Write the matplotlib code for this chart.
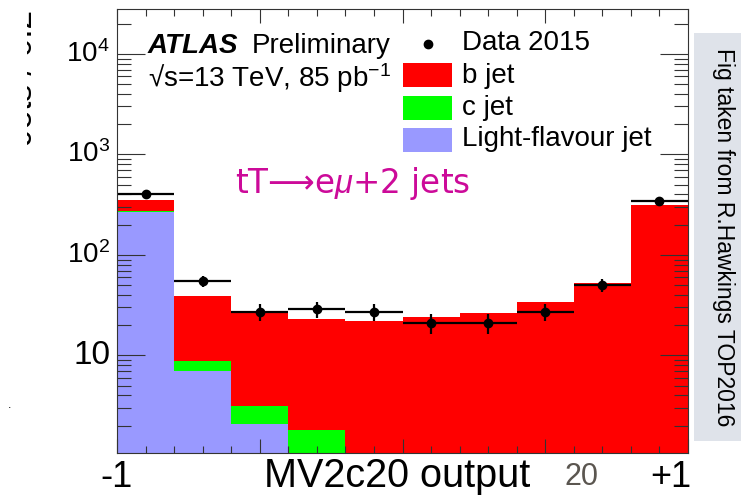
import numpy as np
import matplotlib
matplotlib.use("Agg")
import matplotlib.pyplot as plt
from matplotlib.patches import Rectangle
from matplotlib.lines import Line2D
from matplotlib.ticker import MultipleLocator, LogLocator, NullFormatter
from matplotlib.transforms import Bbox, TransformedBbox, blended_transform_factory

plt.rcParams["font.family"] = ["Liberation Sans", "DejaVu Sans"]
plt.rcParams["mathtext.fontset"] = "custom"
plt.rcParams["mathtext.rm"] = "Liberation Sans"
plt.rcParams["mathtext.it"] = "Liberation Sans:italic"
plt.rcParams["mathtext.bf"] = "Liberation Sans:bold"

# MV2c20 output bins
bin_edges = [-1.0, -0.8, -0.6, -0.4, -0.2, 0.0, 0.2, 0.4, 0.6, 0.8, 1.0]
# Simulated jet-flavour contributions per bin (stacked: light, c, b)
light_jet = [269, 7.0, 2.07, 0.8, 0.4, 0.25, 0.2, 0.15, 0.1, 0.1]
c_jet = [6, 1.9, 1.07, 1.03, 0.5, 0.5, 0.5, 0.5, 0.5, 0.6]
b_jet = [80, 30, 23.6, 21.3, 21.3, 23.5, 26, 33, 51.5, 315]
# Observed jets (Data 2015)
data_2015 = [407, 55, 27, 29, 27, 21, 21, 27, 50, 341]

y_ticks = [10, 100, 1000, 10000]
y_tick_labels = ["10", "$10^{2}$", "$10^{3}$", "$10^{4}$"]

W, H = 741, 500
fig = plt.figure(figsize=(W / 100, H / 100), dpi=100)


def fx(x):
    return x / W


def fy(y):
    return 1 - y / H


ax = fig.add_axes([fx(117), fy(453), (688 - 117) / W, (453 - 9) / H])

edges = np.array(bin_edges)
widths = np.diff(edges)
centers = edges[:-1] + widths / 2
light = np.array(light_jet)
cj = np.array(c_jet)
bj = np.array(b_jet)
data = np.array(data_2015, dtype=float)

ax.bar(edges[:-1], light, width=widths, align="edge", color="#9999ff",
       linewidth=0, log=True)
ax.bar(edges[:-1], cj, width=widths, bottom=light, align="edge",
       color="#00ff00", linewidth=0)
ax.bar(edges[:-1], bj, width=widths, bottom=light + cj, align="edge",
       color="#ff0000", linewidth=0)

ax.errorbar(centers, data, xerr=widths / 2, yerr=np.sqrt(data), fmt="o",
            color="black", ms=6, elinewidth=1.6, capsize=0, zorder=5,
            clip_on=False)

ax.set_yscale("log")
ax.set_xlim(-1, 1)
ax.set_ylim(1.07, 2.8e4)

ax.xaxis.set_major_locator(MultipleLocator(0.5))
ax.xaxis.set_minor_locator(MultipleLocator(0.1))
ax.yaxis.set_major_locator(LogLocator(base=10))
ax.yaxis.set_minor_locator(LogLocator(base=10, subs=np.arange(2, 10)))
ax.xaxis.set_major_formatter(NullFormatter())
ax.yaxis.set_major_formatter(NullFormatter())
ax.yaxis.set_minor_formatter(NullFormatter())

ax.tick_params(which="both", direction="in", top=True, right=True,
               color="#333333", width=0.8)
ax.tick_params(axis="x", which="major", length=10)
ax.tick_params(axis="x", which="minor", length=5)
ax.tick_params(axis="y", which="major", length=20)
ax.tick_params(axis="y", which="minor", length=10)
for sp in ax.spines.values():
    sp.set_color("#333333")
    sp.set_linewidth(0.8)
    sp.set_zorder(6)

# y tick labels
ytr = blended_transform_factory(fig.transFigure, ax.transData)
for v, lab in zip(y_ticks, y_tick_labels):
    fs = 24 if v == 10 else 20
    fig.text(fx(110), v, lab, transform=ytr, ha="right", va="center",
             fontsize=fs)

# x-axis end labels and title
fig.text(fx(117), fy(487), "-1", ha="center", va="baseline", fontsize=26)
fig.text(fx(691), fy(487), "+1", ha="right", va="baseline", fontsize=26)
fig.text(fx(264), fy(487), "MV2c20 output", ha="left", va="baseline",
         fontsize=28.5)
fig.text(fx(564), fy(485), "20", ha="left", va="baseline", fontsize=22,
         color="#5b5650")

# y-axis title, mostly outside the visible area
yl = fig.text(fx(39), fy(10), "Jets / 0.2", rotation=90, ha="right",
              va="top", fontsize=24)
yl.set_clip_box(TransformedBbox(Bbox.from_extents(fx(27), 0, 1, 1),
                                fig.transFigure))
yl.set_clip_on(True)
fig.text(fx(10), fy(408), ".", fontsize=9, ha="center", va="baseline")

# ATLAS label
fig.text(fx(148), fy(53), "ATLAS", fontsize=20, fontweight="bold",
         fontstyle="italic", ha="left", va="baseline")
fig.text(fx(252), fy(53), "Preliminary", fontsize=20, ha="left",
         va="baseline")
fig.text(fx(148), fy(87), "\u221as=13 TeV, 85 pb$^{-1}$", fontsize=20,
         ha="left", va="baseline")

# legend
fig.add_artist(Line2D([fx(428)], [fy(44)], marker="o", color="black", ms=6,
                      transform=fig.transFigure))
fig.text(fx(462), fy(50), "Data 2015", fontsize=20, ha="left",
         va="baseline")
legend_rows = [("#ff0000", "b jet", 63, 83), ("#00ff00", "c jet", 96, 115),
               ("#9999ff", "Light-flavour jet", 128, 146)]
for col, lab, ytop, ybase in legend_rows:
    fig.add_artist(Rectangle((fx(403), fy(ytop + 24)), 49 / W, 24 / H,
                             transform=fig.transFigure, facecolor=col,
                             edgecolor="none"))
    fig.text(fx(462), fy(ybase), lab, fontsize=20, ha="left", va="baseline")

# channel label
fig.text(fx(235), fy(193), "tT\u27f6e$\\mathit{\\mu}$+2 jets", fontsize=23.5,
         color="#cc0a99", ha="left", va="baseline",
         family=["DejaVu Sans"])

# side note
fig.add_artist(Rectangle((fx(694), fy(441)), (W - 694) / W, (441 - 33) / H,
                         transform=fig.transFigure, facecolor="#dfe3ea",
                         edgecolor="none"))
fig.text(fx(723), fy(48), "Fig taken from R.Hawkings TOP2016", rotation=-90,
         ha="center", va="top", fontsize=16.5, rotation_mode="default")

fig.savefig("out.png", dpi=100)
